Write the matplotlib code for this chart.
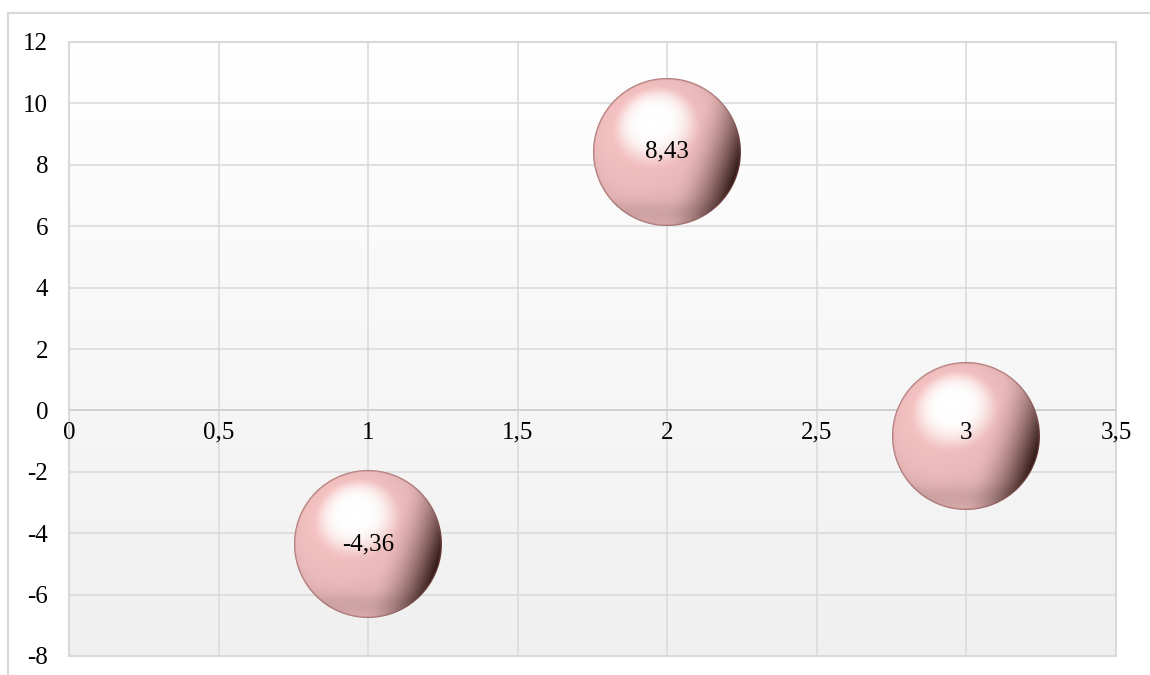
import numpy as np
import matplotlib
matplotlib.use("Agg")
import matplotlib.pyplot as plt
from matplotlib.offsetbox import OffsetImage, AnnotationBbox
from matplotlib.patches import Rectangle
from matplotlib.lines import Line2D
from matplotlib.ticker import FuncFormatter, MultipleLocator

plt.rcParams['font.family'] = ['Liberation Serif', 'DejaVu Serif']

# bubble series
x_vals = [1, 2, 3]
y_vals = [-4.36, 8.43, -0.85]
bubble_sizes = [1.0, 1.0, 1.0]
point_labels = ["-4,36", "8,43", ""]

x_lim = (0, 3.5)
y_lim = (-8, 12)

GRID = "#d9d9d9"
FS = 18


def comma(v, pos=None):
    s = f"{v:g}"
    return s.replace(".", ",")


def unit(vec):
    vec = np.asarray(vec, dtype=float)
    return vec / np.linalg.norm(vec)


def smoothstep(a, b, x):
    t = np.clip((x - a) / (b - a), 0, 1)
    return t * t * (3 - 2 * t)


# ------------------------------------------------------------
# shaded sphere sprite
# ------------------------------------------------------------
def sphere(radius):
    n = int(2 * radius + 4)
    yy, xx = np.mgrid[0:n, 0:n] + 0.5
    c = n / 2
    u = (xx - c) / radius
    v = (c - yy) / radius
    r = np.sqrt(u**2 + v**2)
    z = np.sqrt(np.clip(1 - r**2, 0, 1))

    base = np.array([0.95, 0.75, 0.75])
    darkc = np.array([0.16, 0.07, 0.06])

    L = unit([-0.4, 0.45, 0.8])
    diff = np.clip(u * L[0] + v * L[1] + z * L[2], 0, 1)
    shade = 0.9 + 0.12 * diff
    rgb = base[None, None, :] * shade[..., None]

    # darkening towards the right / lower right limb
    D = unit([0.92, -0.3])
    t = np.clip((u * D[0] + v * D[1] - 0.25) / 0.75, 0, 1) ** 1.8
    rgb = rgb * (1 - t[..., None]) + darkc * t[..., None]

    # faint shadow band above the bottom rim
    band = np.exp(-((v + 0.8) / 0.14) ** 2) * 0.07
    rgb *= (1 - band)[..., None]

    # broad soft white highlight
    H = unit([-0.18, 0.42, 0.89])
    cosh = u * H[0] + v * H[1] + z * H[2]
    spec = smoothstep(0.78, 0.995, cosh)
    rgb = rgb + (1 - rgb) * spec[..., None]

    # thin rim
    edge = np.clip((r - 0.972) / 0.028, 0, 1) * 0.75
    rimc = np.array([0.55, 0.32, 0.32])
    rgb = rgb * (1 - edge[..., None]) + rimc * edge[..., None]

    rgb = np.clip(rgb, 0, 1)
    alpha = np.clip((1 - r) * radius + 0.5, 0, 1)
    return np.dstack([rgb, alpha])


fig = plt.figure(figsize=(11.5, 6.75), dpi=100)

# outer chart border
fig.add_artist(Line2D([8 / 1150, 1.0], [1 - 13 / 675] * 2, color=GRID, lw=1.5,
                      transform=fig.transFigure))
fig.add_artist(Line2D([8 / 1150] * 2, [0, 1 - 13 / 675], color=GRID, lw=1.5,
                      transform=fig.transFigure))

rect = [69 / 1150, 1 - 656 / 675, (1116 - 69) / 1150, (656 - 42) / 675]
ax = fig.add_axes(rect)

# plot area gradient
grad = np.linspace(1.0, 0.94, 256)[:, None]
ax.imshow(np.dstack([grad, grad, grad]), extent=[0, 1, 0, 1], transform=ax.transAxes,
          aspect="auto", zorder=0, interpolation="bilinear")
ax.set_xlim(*x_lim)
ax.set_ylim(*y_lim)

ax.xaxis.set_major_locator(MultipleLocator(0.5))
ax.yaxis.set_major_locator(MultipleLocator(2))
ax.grid(True, color=GRID, lw=1.1, zorder=1)
ax.set_axisbelow(True)
ax.tick_params(axis="both", length=0)
ax.tick_params(axis="x", labelbottom=False)
ax.tick_params(axis="y", labelsize=FS, pad=15)
ax.yaxis.set_major_formatter(FuncFormatter(lambda v, p: f"{v:.0f}"))
for s in ax.spines.values():
    s.set_visible(False)
ax.add_patch(Rectangle((0, 0), 1, 1, transform=ax.transAxes, fill=False,
                       ec=GRID, lw=1.5, clip_on=False, zorder=1.5))
ax.axhline(0, color="#d0d0d0", lw=1.3, zorder=1.5)

# bubbles
max_r = 74
for x, y, size, lab in zip(x_vals, y_vals, bubble_sizes, point_labels):
    rad = max_r * np.sqrt(size / max(bubble_sizes))
    img = OffsetImage(sphere(rad), zoom=1, dpi_cor=False)
    ab = AnnotationBbox(img, (x, y), xycoords="data", frameon=False, pad=0,
                        box_alignment=(0.5, 0.5), zorder=3)
    ax.add_artist(ab)
    if lab:
        ax.text(x, y, lab, ha="center", va="center", fontsize=FS, zorder=4)

# horizontal axis labels drawn over the bubbles
ax2 = fig.add_axes(rect, sharex=ax, sharey=ax)
ax2.patch.set_visible(False)
for name, s in ax2.spines.items():
    s.set_visible(False)
ax2.spines["bottom"].set_position(("data", 0))
ax2.tick_params(axis="x", length=0, labelsize=FS, pad=8)
ax2.tick_params(axis="y", left=False, labelleft=False)
ax2.xaxis.set_major_formatter(FuncFormatter(comma))

fig.savefig("out.png", dpi=100)
